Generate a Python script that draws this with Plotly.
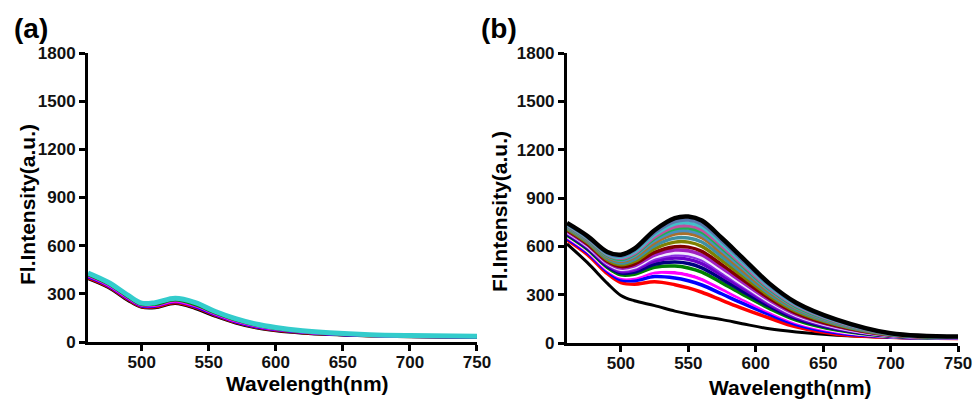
import plotly.graph_objects as go

# ---------------- Panel (a) data ----------------
wl_a = [460, 475, 490, 500, 510, 525, 540, 555, 570, 585, 600, 620, 640, 670, 700, 750]
a_black   = [395, 340, 258, 216, 213, 240, 208, 160, 118, 88, 70, 55, 46, 38, 33, 28]
a_red     = [400, 345, 263, 220, 218, 245, 214, 165, 122, 92, 73, 57, 48, 39, 34, 29]
a_blue    = [405, 350, 268, 224, 223, 250, 219, 169, 126, 95, 76, 60, 49, 40, 35, 30]
a_magenta = [411, 354, 272, 228, 227, 254, 225, 174, 130, 99, 79, 62, 51, 41, 36, 32]
a_green   = [418, 361, 279, 233, 234, 261, 232, 180, 136, 104, 83, 65, 53, 43, 38, 33]
a_cyan    = [430, 372, 290, 242, 245, 272, 245, 190, 145, 112, 90, 70, 57, 45, 40, 36]
series_a = [a_black, a_red, a_blue, a_magenta, a_green, a_cyan]
colors_a = ["#000000", "#ff0000", "#0000ff", "#ff00ff", "#008000", "#33cccc"]
widths_a = [3, 3, 3, 3, 3, 5]

# ---------------- Panel (b) data ----------------
wl_b = [460, 475, 490, 500, 510, 525, 540, 550, 560, 575, 590, 610, 630, 660, 700, 750]
b01 = [615, 500, 370, 295, 262, 232, 198, 180, 165, 145, 120, 88, 68, 48, 35, 28]
b02 = [640, 550, 430, 375, 365, 380, 362, 342, 315, 265, 215, 155, 100, 55, 35, 28]
b03 = [650, 562, 444, 392, 387, 412, 403, 386, 360, 304, 247, 177, 115, 64, 38, 29]
b04 = [659, 571, 454, 406, 405, 438, 436, 422, 395, 334, 272, 194, 127, 71, 40, 30]
b05 = [664, 577, 461, 415, 416, 454, 457, 444, 417, 354, 288, 205, 135, 76, 41, 31]
b06 = [669, 582, 468, 423, 427, 470, 478, 466, 440, 373, 303, 215, 142, 80, 42, 31]
b07 = [676, 589, 476, 434, 440, 489, 502, 493, 466, 396, 322, 228, 151, 86, 44, 32]
b08 = [682, 596, 484, 444, 453, 508, 527, 519, 493, 419, 341, 241, 160, 91, 45, 33]
b09 = [687, 602, 491, 453, 464, 524, 548, 541, 515, 438, 357, 252, 168, 96, 46, 33]
b10 = [690, 605, 495, 458, 471, 534, 560, 555, 529, 450, 366, 258, 172, 98, 47, 34]
b11 = [695, 610, 500, 465, 479, 546, 577, 572, 546, 465, 379, 267, 178, 102, 48, 34]
b12 = [700, 616, 507, 474, 490, 562, 597, 595, 569, 485, 395, 278, 186, 106, 49, 35]
b13 = [707, 624, 516, 486, 506, 585, 626, 626, 600, 511, 417, 293, 196, 113, 51, 36]
b14 = [714, 631, 525, 496, 519, 604, 651, 652, 627, 535, 436, 306, 205, 118, 53, 36]
b15 = [720, 637, 533, 507, 532, 623, 676, 679, 653, 558, 454, 318, 214, 123, 54, 37]
b16 = [724, 642, 538, 513, 541, 636, 692, 696, 671, 573, 467, 327, 220, 127, 55, 38]
b17 = [728, 647, 543, 520, 550, 649, 709, 714, 689, 588, 480, 336, 226, 131, 56, 38]
b18 = [731, 650, 548, 526, 556, 658, 721, 727, 702, 600, 489, 342, 231, 133, 57, 38]
b19 = [736, 655, 553, 532, 565, 671, 738, 745, 720, 615, 502, 351, 237, 137, 58, 39]
b20 = [740, 659, 558, 539, 574, 684, 754, 763, 738, 631, 514, 359, 243, 141, 59, 39]
b21 = [745, 665, 565, 548, 585, 700, 775, 785, 760, 650, 530, 370, 250, 145, 60, 40]
series_b = [b01, b02, b03, b04, b05, b06, b07, b08, b09, b10, b11,
            b12, b13, b14, b15, b16, b17, b18, b19, b20, b21]
colors_b = ["#000000", "#ff0000", "#0000ff", "#ff00ff", "#ffffff", "#008000",
            "#000080", "#6a00c8", "#8a2be2", "#f0e8ff", "#a020c0", "#800000",
            "#808000", "#3f8fa0", "#a8702c", "#4a90c0", "#20b050", "#c050a0",
            "#40c0c8", "#5878b0", "#000000"]
widths_b = [3] + [3.5] * 19 + [4.5]

x_ticks = [500, 550, 600, 650, 700, 750]
y_ticks = [0, 300, 600, 900, 1200, 1500, 1800]
x_title = "Wavelength(nm)"
y_title = "Fl.Intensity(a.u.)"

FONT = "Liberation Sans, Arial, sans-serif"

fig = go.Figure()
for ys, c, w in zip(series_a, colors_a, widths_a):
    fig.add_trace(go.Scatter(x=wl_a, y=ys, mode="lines", xaxis="x", yaxis="y",
                             line=dict(color=c, width=w, shape="spline", smoothing=1.0),
                             showlegend=False, hoverinfo="skip"))
for ys, c, w in zip(series_b, colors_b, widths_b):
    fig.add_trace(go.Scatter(x=wl_b, y=ys, mode="lines", xaxis="x2", yaxis="y2",
                             line=dict(color=c, width=w, shape="spline", smoothing=1.0),
                             showlegend=False, hoverinfo="skip"))

tickfont = dict(family=FONT, size=17, color="#111111", weight="bold")
xax = dict(range=[460, 750], tickvals=x_ticks, showline=True, linecolor="black",
           linewidth=3, ticks="outside", ticklen=6, tickwidth=3, tickcolor="black",
           showgrid=False, zeroline=False, tickfont=tickfont, automargin=False,
           ticklabelstandoff=-3)
yax = dict(range=[0, 1800], tickvals=y_ticks, showline=True, linecolor="black",
           linewidth=3, ticks="outside", ticklen=6, tickwidth=3, tickcolor="black",
           showgrid=False, zeroline=False, tickfont=tickfont, automargin=False)

fig.update_layout(
    width=977, height=400,
    margin=dict(l=0, r=0, t=0, b=0),
    paper_bgcolor="white", plot_bgcolor="white",
    xaxis=dict(xax, domain=[0.0901, 0.4882], anchor="y"),
    yaxis=dict(yax, domain=[0.145, 0.8675], anchor="x"),
    xaxis2=dict(xax, domain=[0.5803, 0.9806], anchor="y2"),
    yaxis2=dict(yax, domain=[0.1425, 0.8675], anchor="x2"),
)

def ann(text, x, y, size, angle=0):
    fig.add_annotation(text=text, x=x / 977, y=1 - y / 400, xref="paper", yref="paper",
                       showarrow=False, textangle=angle, xanchor="center", yanchor="middle",
                       font=dict(family=FONT, size=size, color="black", weight="bold"))

ann("(a)", 31, 28, 28)
ann("(b)", 499, 28, 28)
ann(y_title, 28, 205, 21, -90)
ann(y_title, 499, 212, 21, -90)
ann(x_title, 307, 383, 21)
ann(x_title, 790, 387, 21)

fig.write_html("out.html", config={"displayModeBar": False},
               post_script="document.body.style.margin='0';document.body.style.overflow='hidden';")
